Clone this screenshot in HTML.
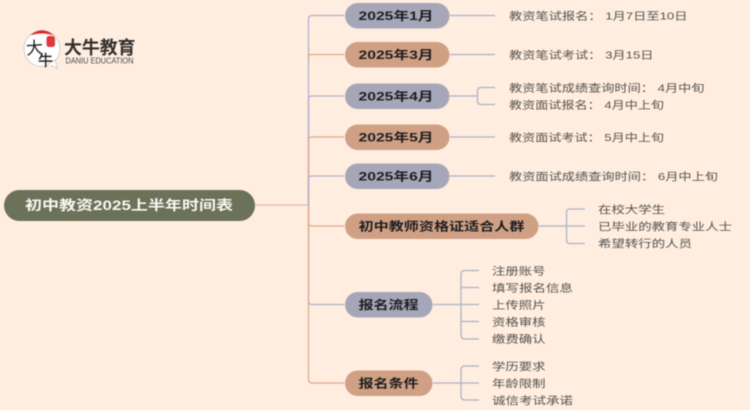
<!DOCTYPE html>
<html lang="zh">
<head>
<meta charset="utf-8">
<style>
html,body{margin:0;padding:0;background:#ffeee0;}
svg{display:block;filter:blur(0.45px);}
text{font-family:"Liberation Sans","Noto Sans CJK SC",sans-serif;}
.p{font-size:12px;font-weight:700;fill:#1d1d1f;}
.t{font-size:10.500px;fill:#55514e;}
.l{fill:none;stroke-width:1.3;}
.b{stroke:#aeb1c8;}
.o{stroke:#dfa98a;}
</style>
</head>
<body>
<svg width="750" height="410" viewBox="0 0 750 410" xmlns="http://www.w3.org/2000/svg">
<rect width="750" height="410" fill="#ffeee0"/>

<!-- trunk connectors -->
<path class="l" d="M255 205H308.5" stroke="#e3bcaa"/>
<path class="l b" d="M308.5 205V19Q308.5 15.5 312 15.5H344"/>
<path class="l o" d="M308.5 60V57Q308.5 54.5 312 54.5H344"/>
<path class="l b" d="M308.5 205V99Q308.5 96 312 96H344"/>
<path class="l o" d="M308.5 205V140Q308.5 137 312 137H344"/>
<path class="l b" d="M308.5 205V179Q308.5 176 312 176H344"/>
<path class="l b" d="M308.5 205V300Q308.5 304.5 312 304.5H344"/>
<path class="l o" d="M308.5 205V379Q308.5 383 312 383H344"/>
<path class="l o" d="M308.5 205V222Q308.5 226 312 226H344"/>

<!-- right connectors -->
<path class="l b" d="M450 15.5H495M450 54.5H495M450 137H495M450 176H495"/>
<path class="l b" d="M450 96H477M495 87.5H481Q477.5 87.5 477.5 91V101Q477.5 104.5 481 104.5H495"/>
<path class="l b" d="M539 226H585M585 209H570Q566.5 209 566.5 212.5V240Q566.5 243.5 570 243.5H585"/>
<path class="l b" d="M433 304.5H479M479 270.5H465Q461 270.5 461 274V335Q461 339 465 339H479M461 287.5H479M461 321.5H479"/>
<path class="l b" d="M433 383H479M479 366H465Q461 366 461 370V396Q461 400 465 400H479"/>

<!-- root -->
<rect x="4" y="190" width="251" height="31" rx="15.5" fill="#6b7259"/>
<text x="25" y="210" font-size="13.500" font-weight="700" fill="#fbf8f2" textLength="208" lengthAdjust="spacingAndGlyphs">初中教资2025上半年时间表</text>

<!-- pills -->
<rect x="345" y="3" width="104.500" height="25.500" rx="12.7" fill="#a5a6b8"/>
<rect x="345" y="42" width="104.500" height="25.500" rx="12.7" fill="#d0a085"/>
<rect x="345" y="83.500" width="104.500" height="25.500" rx="12.7" fill="#a5a6b8"/>
<rect x="345" y="124.500" width="104.500" height="25.500" rx="12.7" fill="#d0a085"/>
<rect x="345" y="163.500" width="104.500" height="25.500" rx="12.7" fill="#a5a6b8"/>
<rect x="345" y="213.500" width="193.500" height="25.500" rx="12.7" fill="#d0a085"/>
<rect x="345" y="292" width="87.500" height="25.500" rx="12.7" fill="#a5a6b8"/>
<rect x="345" y="370.500" width="87.500" height="25.500" rx="12.7" fill="#d0a085"/>

<text class="p" x="358.500" y="20" textLength="75" lengthAdjust="spacingAndGlyphs">2025年1月</text>
<text class="p" x="358.500" y="59" textLength="75" lengthAdjust="spacingAndGlyphs">2025年3月</text>
<text class="p" x="358.500" y="100.500" textLength="75" lengthAdjust="spacingAndGlyphs">2025年4月</text>
<text class="p" x="358.500" y="141.500" textLength="75" lengthAdjust="spacingAndGlyphs">2025年5月</text>
<text class="p" x="358.500" y="180.500" textLength="75" lengthAdjust="spacingAndGlyphs">2025年6月</text>
<text class="p" x="358.500" y="230.500" textLength="166" lengthAdjust="spacingAndGlyphs">初中教师资格证适合人群</text>
<text class="p" x="358.500" y="309" textLength="60" lengthAdjust="spacingAndGlyphs">报名流程</text>
<text class="p" x="358.500" y="387.500" textLength="60" lengthAdjust="spacingAndGlyphs">报名条件</text>

<!-- leaves -->
<text class="t" x="509" y="19.500" textLength="178.500" lengthAdjust="spacingAndGlyphs">教资笔试报名： 1月7日至10日</text>
<text class="t" x="509" y="58.500" textLength="144.500" lengthAdjust="spacingAndGlyphs">教资笔试考试： 3月15日</text>
<text class="t" x="509" y="91.500" textLength="195.500" lengthAdjust="spacingAndGlyphs">教资笔试成绩查询时间： 4月中旬</text>
<text class="t" x="509" y="108.500" textLength="155" lengthAdjust="spacingAndGlyphs">教资面试报名： 4月中上旬</text>
<text class="t" x="509" y="141" textLength="155" lengthAdjust="spacingAndGlyphs">教资面试考试： 5月中上旬</text>
<text class="t" x="509" y="180" textLength="209" lengthAdjust="spacingAndGlyphs">教资面试成绩查询时间： 6月中上旬</text>

<text class="t" x="598" y="213" textLength="67" lengthAdjust="spacingAndGlyphs">在校大学生</text>
<text class="t" x="598" y="230" textLength="134" lengthAdjust="spacingAndGlyphs">已毕业的教育专业人士</text>
<text class="t" x="598" y="247" textLength="94" lengthAdjust="spacingAndGlyphs">希望转行的人员</text>

<text class="t" x="492" y="274.500" textLength="53.500" lengthAdjust="spacingAndGlyphs">注册账号</text>
<text class="t" x="492" y="291.500" textLength="81" lengthAdjust="spacingAndGlyphs">填写报名信息</text>
<text class="t" x="492" y="308.500" textLength="53.500" lengthAdjust="spacingAndGlyphs">上传照片</text>
<text class="t" x="492" y="325.500" textLength="53.500" lengthAdjust="spacingAndGlyphs">资格审核</text>
<text class="t" x="492" y="342.500" textLength="53.500" lengthAdjust="spacingAndGlyphs">缴费确认</text>
<text class="t" x="492" y="370" textLength="53.500" lengthAdjust="spacingAndGlyphs">学历要求</text>
<text class="t" x="492" y="387" textLength="53.500" lengthAdjust="spacingAndGlyphs">年龄限制</text>
<text class="t" x="492" y="404" textLength="81" lengthAdjust="spacingAndGlyphs">诚信考试承诺</text>

<!-- logo -->
<circle cx="42" cy="48.500" r="18" fill="#fff" stroke="#c9c4c0" stroke-width="0.8"/>
<path d="M48 64L57.500 68.500L55 60Z" fill="#fff" stroke="#c9c4c0" stroke-width="0.8"/>
<path d="M49 65L54 62" stroke="#fff" stroke-width="2"/>
<path d="M30 35.500Q42 25 54 35.500Q42 31.500 30 35.500Z" fill="#e3262c"/>
<rect x="46.500" y="36" width="8.500" height="11" rx="2.500" fill="#e0393c"/>
<text x="26" y="54" font-size="17" fill="#1c1c1c" transform="rotate(-4 34 48)">大</text>
<text x="38" y="65.500" font-size="15" fill="#1c1c1c" stroke="#1c1c1c" stroke-width="0.3">牛</text>
<text x="64" y="54" font-size="18" font-weight="700" fill="#33302e" textLength="71.500" lengthAdjust="spacingAndGlyphs">大牛教育</text>
<text x="65.500" y="63.500" font-size="8" fill="#4a4644" textLength="68" lengthAdjust="spacingAndGlyphs">DANIU EDUCATION</text>
</svg>
</body>
</html>
